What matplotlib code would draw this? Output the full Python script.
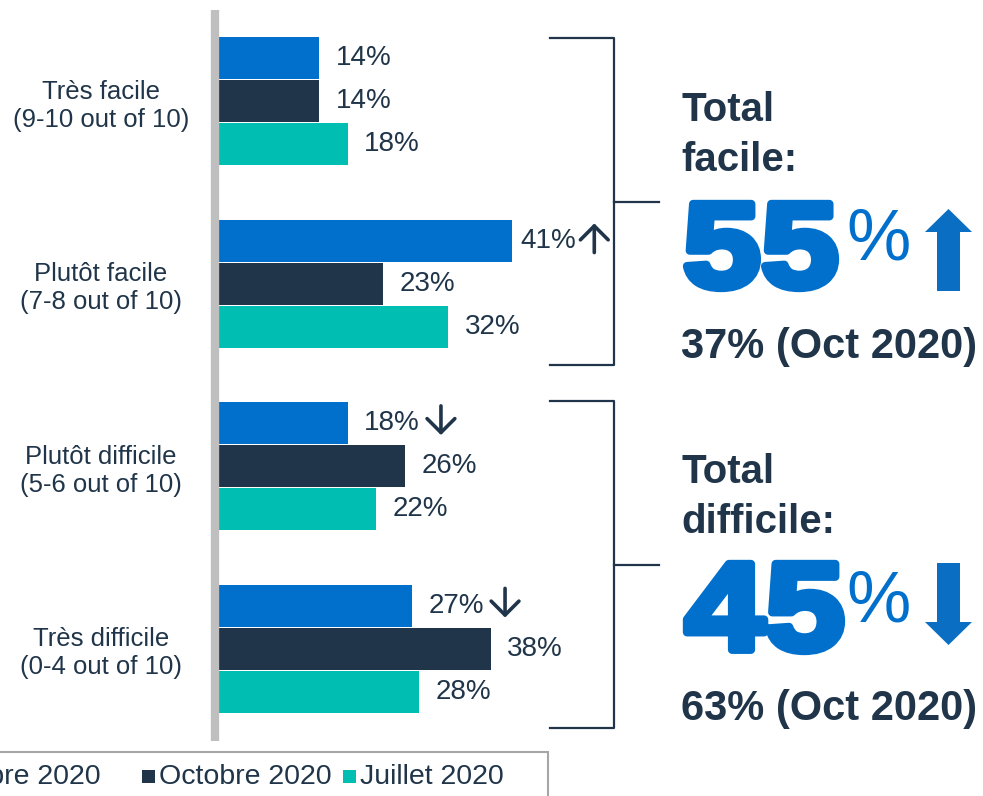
import matplotlib
matplotlib.use("Agg")
import matplotlib.pyplot as plt
from matplotlib.patches import Rectangle, Polygon, PathPatch
from matplotlib.textpath import TextPath
from matplotlib.font_manager import FontProperties
from matplotlib.transforms import Affine2D
from matplotlib.text import OffsetFrom
import numpy as np

plt.rcParams['font.family'] = ['Liberation Sans', 'DejaVu Sans']

# donnees
categories = ["Très facile\n(9-10 out of 10)", "Plutôt facile\n(7-8 out of 10)",
              "Plutôt difficile\n(5-6 out of 10)", "Très difficile\n(0-4 out of 10)"]
series = ["Décembre 2020", "Octobre 2020", "Juillet 2020"]
decembre = [14, 41, 18, 27]
octobre = [14, 23, 26, 38]
juillet = [18, 32, 22, 28]
fleches_dec = [0, 1, -1, -1]  # evolution vs octobre (1 = hausse, -1 = baisse)

totaux = ["55", "45"]
totaux_noms = ["facile:", "difficile:"]
totaux_oct = ["37% (Oct 2020)", "63% (Oct 2020)"]
totaux_sens = ["up", "down"]

couleurs = ["#0070CC", "#203549", "#00BFB2"]
navy = "#203549"
bleu = "#0070CC"

W, H = 983, 796
fig = plt.figure(figsize=(W / 100, H / 100), dpi=100)

# axe principal (barres)
ax = fig.add_axes([219 / W, (H - 740) / H, (648 - 219) / W, 730 / H])
valeurs = [decembre, octobre, juillet]
y = np.arange(len(categories))
for j, vals in enumerate(valeurs):
    pos = y + (j - 1) * 0.2356
    ax.barh(pos, vals, height=0.228, color=couleurs[j])
    for k, v in enumerate(vals):
        pad = 6 if v > 40 else 12
        t = ax.annotate(f"{v}%", (v, pos[k]), xytext=(pad, 0), textcoords="offset points",
                        va="center", ha="left", fontsize=20, color=navy)
        if j == 0 and fleches_dec[k]:
            s = fleches_dec[k]
            cx = 13 if v > 40 else 15
            of = OffsetFrom(t, (1.0, 0.5), unit="points")
            ax.annotate("", xy=(cx, 2 + s * 10.5), xycoords=of,
                        xytext=(cx, 2 - s * 10.5), textcoords=of,
                        arrowprops=dict(arrowstyle="->,head_length=0.4,head_width=0.4",
                                        lw=2.6, color=navy, mutation_scale=25,
                                        shrinkA=0, shrinkB=0))

ax.set_xlim(0, 60)
ax.set_ylim(3.5, -0.5)
ax.set_xticks([])
ax.set_yticks(y)
ax.set_yticklabels(categories, fontsize=18.5, color=navy, ha="center", multialignment="center")
ax.tick_params(axis="y", length=0, pad=85)
for s in ax.spines.values():
    s.set_visible(False)
ax.patch.set_visible(False)

# calque pour annotations (coordonnees pixels)
ov = fig.add_axes([0, 0, 1, 1])
ov.set_xlim(0, W)
ov.set_ylim(H, 0)
ov.axis("off")
ov.patch.set_visible(False)

# axe gris
ov.plot([215, 215], [10, 741], color="#BFBFBF", lw=6, solid_capstyle="butt")

# accolades
for dy in [0, 363]:
    ov.plot([550, 614, 614, 550], [38 + dy, 38 + dy, 365 + dy, 365 + dy], color=navy, lw=1.6)
    ov.plot([614, 659], [202 + dy, 202 + dy], color=navy, lw=1.6)


def gros_chiffre(txt, x0, x1, ytop, ybas):
    # chiffres tres gras, etires pour imiter Arial Black
    tp = TextPath((0, 0), txt, size=1, prop=FontProperties(family="Liberation Sans", weight="bold"))
    ext = tp.get_extents()
    m = 4
    sx = (x1 - x0 - 2 * m) / ext.width
    sy = (ybas - ytop - 2 * m) / ext.height
    tr = Affine2D().translate(-ext.x0, -ext.y0).scale(sx, -sy).translate(x0 + m, ybas - m)
    ov.add_patch(PathPatch(tr.transform_path(tp), facecolor=bleu, edgecolor=bleu,
                           lw=6, joinstyle="round"))


# blocs totaux
boites = [(683, 839, 200, 292), (683, 845, 560, 655)]
for i in range(2):
    dy = i * 362
    ov.text(681, 121 + dy, "Total", fontsize=29, fontweight="bold", color=navy, va="baseline")
    ov.text(681, 171 + dy, totaux_noms[i], fontsize=29, fontweight="bold", color=navy, va="baseline")
    gros_chiffre(totaux[i], *boites[i])
    ov.text(846, 259 + dy, "%", fontsize=52, color=bleu, va="baseline")
    ov.text(681, 358 + dy, totaux_oct[i], fontsize=30, fontweight="bold", color=navy, va="baseline")
    if totaux_sens[i] == "up":
        pts = [(937, 291), (937, 232), (925, 232), (948.5, 209), (972, 232), (960, 232), (960, 291)]
    else:
        pts = [(937, 563), (937, 622), (925, 622), (948.5, 645), (972, 622), (960, 622), (960, 563)]
    ov.add_patch(Polygon(pts, closed=True, color="#0A6EC2", lw=0))

# legende
ov.add_patch(Rectangle((-5, 752), 553, 60, fill=False, edgecolor="#A6A6A6", lw=1.5))
legende_x = [-119, 142, 343]
for j, nom in enumerate(series):
    x0 = legende_x[j]
    ov.add_patch(Rectangle((x0, 770), 13, 13, color=couleurs[j], lw=0))
    ov.text(x0 + 17, 777, nom, fontsize=20.5, color=navy, va="center", ha="left")

fig.savefig("out.png", dpi=100)
